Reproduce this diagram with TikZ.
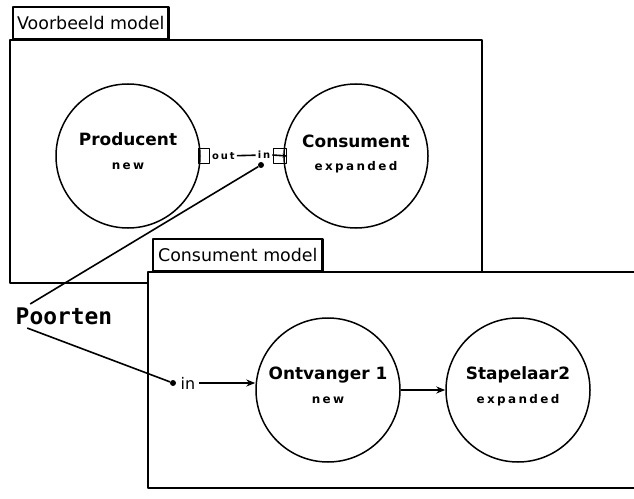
\documentclass[tikz,border=0pt]{standalone}
\usepackage{fontspec}
\setmainfont{DejaVu Sans}
\newfontfamily\wijdfont[LetterSpace=20]{DejaVu Sans}
\newfontfamily\poortfont{DejaVu Sans Mono}
\newcommand\kleintekst{\wijdfont\fontsize{12}{14}\selectfont\bfseries}
\usetikzlibrary{arrows.meta,positioning}

\begin{document}
\begin{tikzpicture}[x=1bp, y=-1bp, line join=round, >={Stealth[length=9bp,width=7bp]},
  model/.style={draw, line width=2.8bp, fill=white},
  tab/.style={draw, line width=2.2bp, fill=white, font=\fontsize{17.5}{19}\selectfont, anchor=south west, minimum height=32bp, inner xsep=4bp},
  proces/.style={draw, circle, line width=1.5bp, minimum size=144bp, inner sep=0pt},
  naam/.style={font=\fontsize{17}{19}\selectfont\bfseries},
  klein/.style={font=\kleintekst},
  poortnaam/.style={font=\wijdfont\fontsize{10}{12}\selectfont\bfseries, inner xsep=2bp},
  poort/.style={draw, line width=1.1bp, minimum width=11bp, minimum height=15bp, inner sep=0pt},
  stip/.style={circle, fill, inner sep=0pt, minimum size=6bp},
  lijn/.style={line width=1.6bp}]
\useasboundingbox (0,0) rectangle (634,499);
% Voorbeeld model
\draw[model] (10,40) rectangle (482,283);
\node[tab] (voorbeeld) at (12,40) {Voorbeeld model};
\node[proces] (prod) at (128,156) {};
\node[naam] (prodnaam) at ([yshift=17bp]prod.center) {Producent};
\node[klein] (prodstatus) at ([yshift=-10bp]prod.center) {new};
\node[proces] (cons) at (356,156) {};
\node[naam] (consnaam) at ([yshift=15bp]cons.center) {Consument};
\node[klein] (consstatus) at ([yshift=-11bp]cons.center) {expanded};
\node[poort] (prodout) at ([xshift=3bp]prod.east) {};
\node[poort, minimum width=13bp] (consin) at ([xshift=-3bp]cons.west) {};
\node[poortnaam, right=0bp of prodout] (outlbl) {out};
\node[poortnaam] (inlbl) at (264,155) {in};
\draw[lijn] (outlbl) -- (inlbl);
\draw[lijn, -{Stealth[length=5bp,width=4bp]}] (inlbl.east) -- (consin.east);
\node[stip] (stipa) at (261,165) {};
% Consument model
\draw[model] (634,272) -- (148,272) -- (148,488) -- (634,488);
\node[tab, inner xsep=5bp] (consmodel) at (152,272) {Consument model};
\node[proces] (ontv) at (328,390) {};
\node[naam] (ontvnaam) at ([yshift=15bp]ontv.center) {Ontvanger 1};
\node[klein] (ontvstatus) at ([yshift=-10bp]ontv.center) {new};
\node[proces] (stap) at (518,390) {};
\node[naam] (stapnaam) at ([yshift=15bp]stap.center) {Stapelaar2};
\node[klein] (stapstatus) at ([yshift=-10bp]stap.center) {expanded};
\node[stip] (stipb) at (173,383) {};
\node[font=\fontsize{16}{18}\selectfont, right=1bp of stipb] (inb) {in};
\draw[lijn, ->] (inb.east) -- (inb.east -| ontv.west);
\draw[lijn, ->] (ontv) -- (stap);
% Poorten
\node[font=\poortfont\fontsize{23}{25}\selectfont\bfseries] (poorten) at (64,316) {Poorten};
\draw[lijn] ([xshift=18bp]poorten.north west) -- (stipa);
\draw[lijn] ([xshift=15bp]poorten.south west) -- (stipb);
\end{tikzpicture}
\end{document}
